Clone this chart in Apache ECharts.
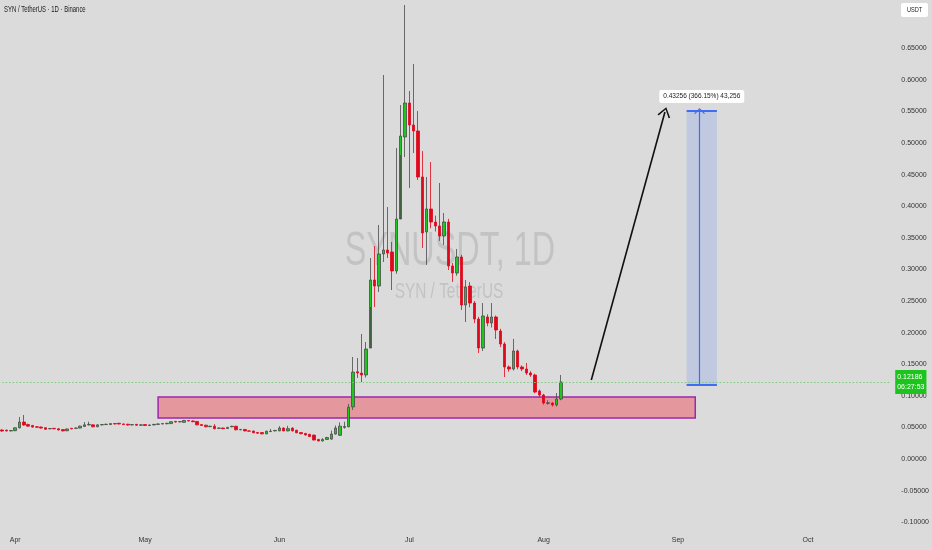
<!DOCTYPE html>
<html><head><meta charset="utf-8">
<script src="https://cdn.jsdelivr.net/npm/echarts@6/dist/echarts.min.js"></script>
<style>html,body{margin:0;padding:0;background:#dbdbdb}#c{width:932px;height:550px}</style>
</head><body><div id="c"></div>
<script>
// ---- data ----
const firstDay = [2024, 2, 29];   // first visible daily bar (29 Mar)
const dayCount = 206;             // days covered by the time axis
const monthNames = ['Jan','Feb','Mar','Apr','May','Jun','Jul','Aug','Sep','Oct','Nov','Dec'];
// daily candles: [open, close, low, high]
const candles = [
[0.0459,0.0443,0.0430,0.0470],[0.0456,0.0444,0.0435,0.0465],[0.0445,0.0449,0.0438,0.0460],[0.0448,0.0493,0.0440,0.0500],
[0.0493,0.0585,0.0485,0.0665],[0.0585,0.0538,0.0525,0.0696],[0.0545,0.0520,0.0510,0.0560],[0.0530,0.0505,0.0495,0.0540],
[0.0510,0.0502,0.0495,0.0520],[0.0505,0.0490,0.0482,0.0515],[0.0495,0.0470,0.0462,0.0500],[0.0478,0.0482,0.0470,0.0490],
[0.0485,0.0478,0.0470,0.0492],[0.0478,0.0460,0.0452,0.0485],[0.0465,0.0445,0.0438,0.0472],[0.0447,0.0475,0.0440,0.0482],
[0.0485,0.0478,0.0470,0.0492],[0.0485,0.0490,0.0478,0.0498],[0.0490,0.0520,0.0485,0.0528],[0.0515,0.0540,0.0508,0.0585],
[0.0540,0.0548,0.0530,0.0590],[0.0540,0.0510,0.0502,0.0548],[0.0510,0.0540,0.0505,0.0548],[0.0540,0.0545,0.0532,0.0552],
[0.0545,0.0550,0.0538,0.0558],[0.0545,0.0560,0.0538,0.0568],[0.0560,0.0555,0.0548,0.0568],[0.0565,0.0555,0.0545,0.0572],
[0.0555,0.0545,0.0538,0.0562],[0.0550,0.0538,0.0530,0.0558],[0.0540,0.0545,0.0532,0.0552],[0.0548,0.0535,0.0528,0.0555],
[0.0535,0.0540,0.0528,0.0548],[0.0545,0.0530,0.0522,0.0552],[0.0532,0.0538,0.0525,0.0545],[0.0540,0.0548,0.0532,0.0555],
[0.0548,0.0555,0.0540,0.0562],[0.0555,0.0560,0.0548,0.0568],[0.0558,0.0565,0.0550,0.0572],[0.0560,0.0590,0.0555,0.0598],
[0.0595,0.0585,0.0578,0.0602],[0.0588,0.0592,0.0580,0.0600],[0.0580,0.0610,0.0575,0.0618],[0.0608,0.0602,0.0595,0.0615],
[0.0602,0.0590,0.0582,0.0610],[0.0595,0.0540,0.0535,0.0602],[0.0545,0.0530,0.0522,0.0552],[0.0535,0.0510,0.0502,0.0542],
[0.0512,0.0518,0.0505,0.0528],[0.0520,0.0478,0.0470,0.0552],[0.0485,0.0490,0.0478,0.0498],[0.0490,0.0480,0.0472,0.0498],
[0.0482,0.0500,0.0475,0.0508],[0.0510,0.0518,0.0502,0.0525],[0.0518,0.0462,0.0455,0.0525],[0.0462,0.0468,0.0455,0.0475],
[0.0468,0.0445,0.0438,0.0475],[0.0445,0.0440,0.0432,0.0452],[0.0442,0.0415,0.0408,0.0450],[0.0420,0.0408,0.0400,0.0428],
[0.0418,0.0398,0.0390,0.0425],[0.0398,0.0440,0.0392,0.0448],[0.0435,0.0440,0.0425,0.0475],[0.0445,0.0452,0.0438,0.0460],
[0.0445,0.0490,0.0440,0.0520],[0.0490,0.0445,0.0438,0.0498],[0.0445,0.0480,0.0438,0.0525],[0.0490,0.0445,0.0438,0.0498],
[0.0455,0.0415,0.0408,0.0462],[0.0418,0.0400,0.0392,0.0425],[0.0405,0.0380,0.0372,0.0412],[0.0390,0.0355,0.0348,0.0398],
[0.0378,0.0300,0.0295,0.0385],[0.0310,0.0285,0.0278,0.0318],[0.0285,0.0310,0.0278,0.0330],[0.0310,0.0340,0.0300,0.0350],
[0.0315,0.0395,0.0305,0.0450],[0.0395,0.0490,0.0385,0.0530],[0.0375,0.0520,0.0365,0.0580],[0.0500,0.0515,0.0480,0.0590],
[0.0510,0.0820,0.0500,0.0870],[0.0825,0.1375,0.0775,0.1614],[0.1380,0.1362,0.1282,0.1598],[0.1360,0.1330,0.1218,0.1978],
[0.1330,0.1740,0.1290,0.1851],[0.1756,0.2832,0.2405,0.3180],[0.2832,0.2737,0.2405,0.3370],[0.2737,0.3244,0.2642,0.3703],
[0.3244,0.3307,0.3117,0.6076],[0.3307,0.3259,0.3180,0.3987],[0.3275,0.2975,0.2674,0.3434],[0.2975,0.3797,0.2930,0.4921],
[0.3797,0.5111,0.4810,0.5601],[0.5095,0.5633,0.4778,0.7184],[0.5633,0.5285,0.4288,0.5823],[0.5285,0.5190,0.4842,0.6250],
[0.5190,0.4462,0.4415,0.5506],[0.4462,0.3576,0.3339,0.4873],[0.3592,0.3956,0.3070,0.4462],[0.3956,0.3750,0.3650,0.4699],
[0.3750,0.3687,0.3600,0.3850],[0.3687,0.3528,0.3450,0.4367],[0.3528,0.3750,0.3386,0.3892],[0.3750,0.3054,0.2990,0.3800],
[0.3054,0.2943,0.2801,0.3100],[0.2943,0.3196,0.2900,0.3323],[0.3196,0.2437,0.2358,0.3230],[0.2437,0.2722,0.2168,0.2832],
[0.2737,0.2468,0.2400,0.2800],[0.2468,0.2215,0.2150,0.2500],[0.2215,0.1756,0.1677,0.2250],[0.1756,0.2263,0.1709,0.2468],
[0.2247,0.2152,0.2100,0.2290],[0.2152,0.2247,0.2080,0.2468],[0.2247,0.2041,0.1899,0.2270],[0.2025,0.1820,0.1770,0.2060],
[0.1820,0.1456,0.1297,0.1850],[0.1456,0.1424,0.1380,0.1480],[0.1424,0.1709,0.1400,0.1899],[0.1709,0.1456,0.1420,0.1730],
[0.1456,0.1424,0.1390,0.1480],[0.1424,0.1361,0.1330,0.1519],[0.1361,0.1329,0.1300,0.1390],[0.1329,0.1060,0.1040,0.1350],
[0.1076,0.1013,0.0980,0.1100],[0.1013,0.0886,0.0860,0.1030],[0.0880,0.0890,0.0860,0.0930],[0.0886,0.0854,0.0830,0.0900],
[0.0854,0.0949,0.0830,0.1044],[0.0949,0.12186,0.0930,0.1329]
];
const yMin = -0.10, yMax = 0.65, yStep = 0.05;
const zone = { from: '2024-05-04', to: '2024-09-05', low: 0.065, high: 0.098 };
const target = { from: '2024-09-03', to: '2024-09-10', mid: '2024-09-06', low: 0.11814, high: 0.5507,
                 text: '0.43256 (366.15%) 43,256' };
const arrowPath = [['2024-08-12', 0.125], ['2024-08-29', 0.549]];
const lastPrice = 0.12186;
const countdown = '06:27:53';
const titleText = 'SYN / TetherUS · 1D · Binance';
const watermark1 = 'SYNUSDT, 1D';
const watermark2 = 'SYN / TetherUS';
const currency = 'USDT';

// ---- build ----
const categories = [];
const t0 = Date.UTC(firstDay[0], firstDay[1], firstDay[2]);
for (let i = 0; i < dayCount; i++) categories.push(new Date(t0 + i * 86400000).toISOString().slice(0, 10));

const FONT = "'Liberation Sans', Arial, sans-serif";
const chevron = 'path://M0 10 L8 0 L16 10 L14.4 11 L8 2.6 L1.6 11 Z';

const chart = echarts.init(document.getElementById('c'), null, { renderer: 'canvas' });
chart.setOption({
  animation: false,
  backgroundColor: '#dbdbdb',
  grid: { left: 0, right: 39, top: 48.2, bottom: 27.8 },
  xAxis: {
    type: 'category', data: categories, boundaryGap: true,
    axisLine: { show: false }, axisTick: { show: false }, splitLine: { show: false },
    axisLabel: {
      interval: (idx, val) => val.slice(8) === '01',
      formatter: val => monthNames[+val.slice(5, 7) - 1],
      margin: 14, fontFamily: FONT, fontSize: 7, color: '#333'
    }
  },
  yAxis: {
    type: 'value', position: 'right', min: yMin, max: yMax, interval: yStep,
    axisLine: { show: false }, axisTick: { show: false }, splitLine: { show: false },
    axisLabel: { formatter: v => v.toFixed(5), margin: 9, fontFamily: FONT, fontSize: 7, color: '#333' }
  },
  graphic: [
    { type: 'text', x: 4, y: 10, scaleX: 0.70, silent: true,
      style: { text: titleText, font: "8.5px " + FONT, fill: '#1a1a1a', align: 'left', verticalAlign: 'middle' } },
    { type: 'text', x: 450, y: 251, scaleX: 0.66, silent: true, z: 0,
      style: { text: watermark1, font: "49px " + FONT, fill: 'rgba(110,110,110,0.22)', align: 'center', verticalAlign: 'middle' } },
    { type: 'text', x: 449, y: 292, scaleX: 0.70, silent: true, z: 0,
      style: { text: watermark2, font: "22px " + FONT, fill: 'rgba(110,110,110,0.22)', align: 'center', verticalAlign: 'middle' } },
    { type: 'rect', shape: { x: 901, y: 3, width: 27, height: 14, r: 2 }, style: { fill: '#ffffff' }, silent: true },
    { type: 'text', x: 914.5, y: 10.5, scaleX: 0.8, style: { text: currency, font: "7px " + FONT, fill: '#222', align: 'center', verticalAlign: 'middle' }, silent: true }
  ],
  series: [{
    type: 'candlestick',
    data: candles,
    barWidth: 3,
    clip: false,
    itemStyle: { color: '#1fc61f', color0: '#e0081b', borderColor: '#4a4a4a', borderColor0: '#e0081b', borderWidth: 0.8 },
    markArea: {
      silent: true,
      data: [
        [{ xAxis: zone.from, yAxis: zone.high,
           itemStyle: { color: 'rgba(240,60,75,0.42)', borderColor: '#9c27b0', borderWidth: 1.5 } },
         { xAxis: zone.to, yAxis: zone.low }],
        [{ xAxis: target.from, yAxis: target.high,
           itemStyle: { color: 'rgba(41,98,255,0.15)' },
           label: { show: true, position: 'top', distance: 8, formatter: target.text,
             backgroundColor: '#ffffff', borderRadius: 2, padding: [3, 4, 3, 4],
             fontFamily: FONT, fontSize: 6.5, color: '#222' } },
         { xAxis: target.to, yAxis: target.low }]
      ]
    },
    markLine: {
      silent: true, symbol: ['none', 'none'], animation: false,
      label: { show: false },
      data: [
        [{ coord: [categories[0], lastPrice], symbol: 'none',
           lineStyle: { color: '#7acb7a', width: 1, type: [1.5, 2] } },
         { coord: [categories[dayCount - 1], lastPrice],
           label: { show: true, position: 'end', distance: 5,
             formatter: () => lastPrice.toFixed(5) + '\n' + countdown,
             backgroundColor: '#1ec41e', color: '#fff', padding: [2, 2, 2, 2],
             fontFamily: FONT, fontSize: 7, lineHeight: 10 } }],
        [{ coord: arrowPath[0], symbol: 'none', lineStyle: { color: '#111', width: 1.6, type: 'solid' } },
         { coord: arrowPath[1], symbol: chevron, symbolSize: [13, 10] }],
        [{ coord: [target.mid, target.low], symbol: 'none', lineStyle: { color: '#3d6df5', width: 1.2, type: 'solid' } },
         { coord: [target.mid, target.high], symbol: chevron, symbolSize: [11, 6] }],
        [{ coord: [target.from, target.high], lineStyle: { color: '#3d6df5', width: 2, type: 'solid' } },
         { coord: [target.to, target.high] }],
        [{ coord: [target.from, target.low], lineStyle: { color: '#3d6df5', width: 2, type: 'solid' } },
         { coord: [target.to, target.low] }]
      ]
    }
  }]
});
</script></body></html>
